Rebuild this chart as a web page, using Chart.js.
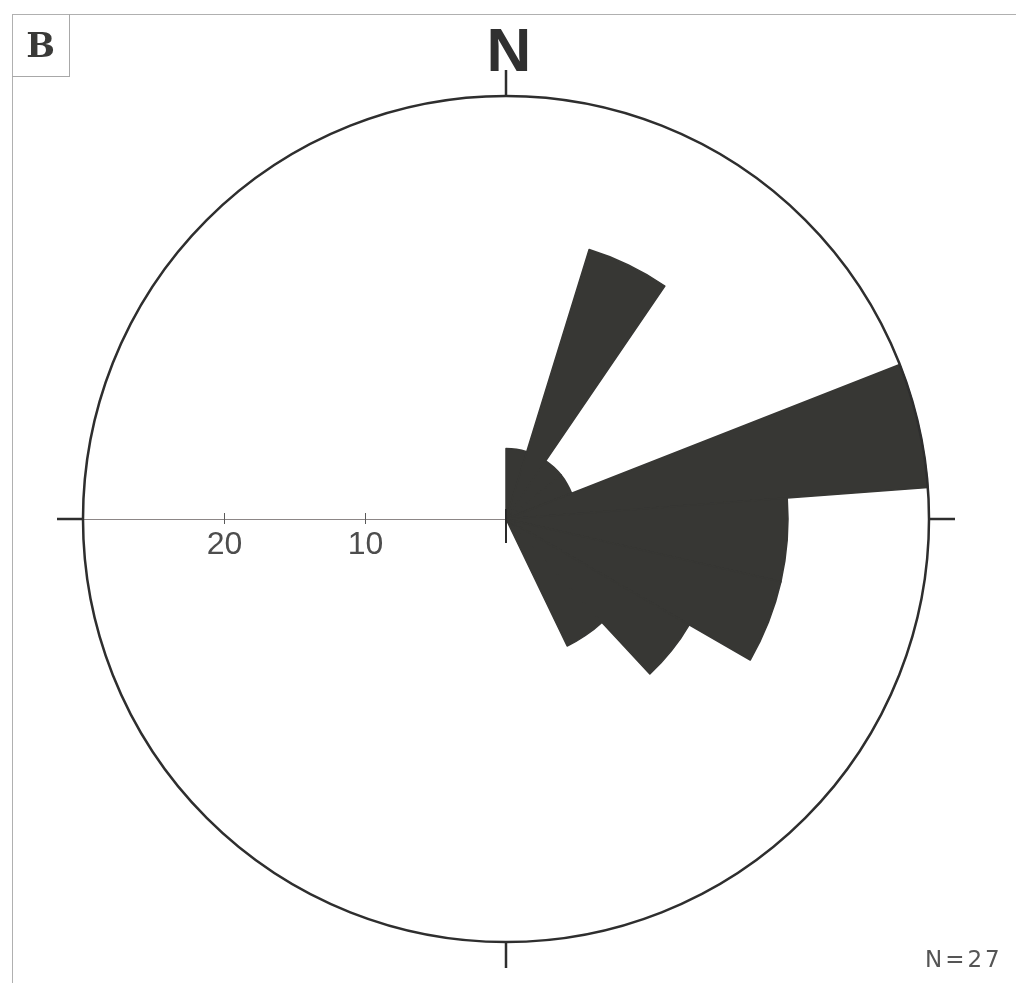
<!DOCTYPE html>
<html>
<head>
<meta charset="utf-8">
<script src="https://cdn.jsdelivr.net/npm/chart.js@4"></script>
<style>
html,body{margin:0;padding:0;background:#fff;}
#wrap{position:relative;width:1016px;height:983px;overflow:hidden;background:#fff;}
#c{position:absolute;left:0;top:0;}
.lbl{position:absolute;white-space:nowrap;line-height:1;}
#frameTop{position:absolute;left:12px;top:14px;width:1004px;height:0;border-top:1px solid #b0b0b0;}
#frameLeft{position:absolute;left:12px;top:14px;width:0;height:969px;border-left:1px solid #b0b0b0;}
#panel{position:absolute;left:12px;top:14px;width:57px;height:62px;border-right:1px solid #a8a8a8;border-bottom:1px solid #a8a8a8;
  font:bold 34px "DejaVu Serif",serif;color:#3a3a38;display:flex;align-items:center;justify-content:center;}
#north{left:509px;top:14px;transform:translateX(-50%);font:bold 62px "Liberation Sans",Arial,sans-serif;color:#303030;}
#count{left:925px;top:946px;font:23px "DejaVu Sans",sans-serif;letter-spacing:3px;color:#555;}
</style>
</head>
<body>
<div id="wrap">
  <canvas id="c" width="1016" height="983"></canvas>
  <div id="frameTop"></div>
  <div id="frameLeft"></div>
  <div id="panel">B</div>
  <div class="lbl" id="north">N</div>
  <div class="lbl" id="count">N=27</div>
</div>
<script>
// ---- data ----
const sectors = ['0–17°','17–34°','34–51°','51–69°','69–86°','86–103°','103–120°',
  '120–137°','137–154°','154–171°','171–189°','189–206°','206–223°','223–240°',
  '240–257°','257–274°','274–291°','291–309°','309–326°','326–343°','343–360°'];
const frequency = [5, 20, 5, 5, 30, 20, 20, 15, 10, 0, 0, 0, 0, 0, 0, 0, 0, 0, 0, 0, 0];
const scaleTicks = [10, 20];
const scaleMax = 30;
const cardinalAngles = [0, 90, 180, 270];

const petalColor = '#373734';

const roseDecor = {
  id: 'roseDecor',
  beforeDatasetsDraw(chart) {
    const s = chart.scales.r, ctx = chart.ctx;
    const cx = s.xCenter, cy = s.yCenter;
    const R = s.getDistanceFromCenterForValue(scaleMax);
    ctx.save();
    ctx.lineWidth = 1;
    ctx.strokeStyle = '#8c8686';
    ctx.beginPath();
    ctx.moveTo(cx - R, cy + 0.5);
    ctx.lineTo(cx, cy + 0.5);
    ctx.stroke();
    ctx.strokeStyle = '#5a5a5a';
    ctx.fillStyle = '#4d4d4d';
    ctx.font = '32px "Liberation Sans", Arial, sans-serif';
    ctx.textAlign = 'center';
    ctx.textBaseline = 'alphabetic';
    scaleTicks.forEach(v => {
      const x = Math.round(cx - s.getDistanceFromCenterForValue(v)) + 0.5;
      ctx.beginPath();
      ctx.moveTo(x, cy - 6);
      ctx.lineTo(x, cy + 5);
      ctx.stroke();
      ctx.fillText(String(v), x, cy + 35);
    });
    ctx.restore();
  },
  afterDatasetsDraw(chart) {
    const s = chart.scales.r, ctx = chart.ctx;
    const cx = s.xCenter, cy = s.yCenter;
    const R = s.getDistanceFromCenterForValue(scaleMax);
    ctx.save();
    ctx.strokeStyle = '#2e2e2e';
    ctx.lineWidth = 2.5;
    ctx.beginPath();
    ctx.arc(cx, cy, R, 0, Math.PI * 2);
    ctx.stroke();
    cardinalAngles.forEach(a => {
      const t = a * Math.PI / 180;
      const dx = Math.sin(t), dy = -Math.cos(t);
      ctx.beginPath();
      ctx.moveTo(cx + dx * R, cy + dy * R);
      ctx.lineTo(cx + dx * (R + 26), cy + dy * (R + 26));
      ctx.stroke();
    });
    // small centre tick
    ctx.lineWidth = 2;
    ctx.strokeStyle = '#2a2a2a';
    ctx.beginPath();
    ctx.moveTo(cx, cy - 10);
    ctx.lineTo(cx, cy + 24);
    ctx.stroke();
    ctx.restore();
  }
};

new Chart(document.getElementById('c'), {
  type: 'polarArea',
  data: {
    labels: sectors,
    datasets: [{
      data: frequency,
      backgroundColor: petalColor,
      borderColor: petalColor,
      borderAlign: 'center',
      borderJoinStyle: 'round',
      borderWidth: (c) => (c.raw > 0 ? 1.5 : 0)
    }]
  },
  options: {
    responsive: false,
    animation: false,
    layout: { padding: { left: 83, right: 87, top: 96, bottom: 41 } },
    plugins: { legend: { display: false }, tooltip: { enabled: false } },
    scales: {
      r: {
        min: 0,
        max: scaleMax,
        startAngle: 0,
        ticks: { display: false },
        grid: { display: false },
        angleLines: { display: false },
        pointLabels: { display: false }
      }
    }
  },
  plugins: [roseDecor]
});
</script>
</body>
</html>
